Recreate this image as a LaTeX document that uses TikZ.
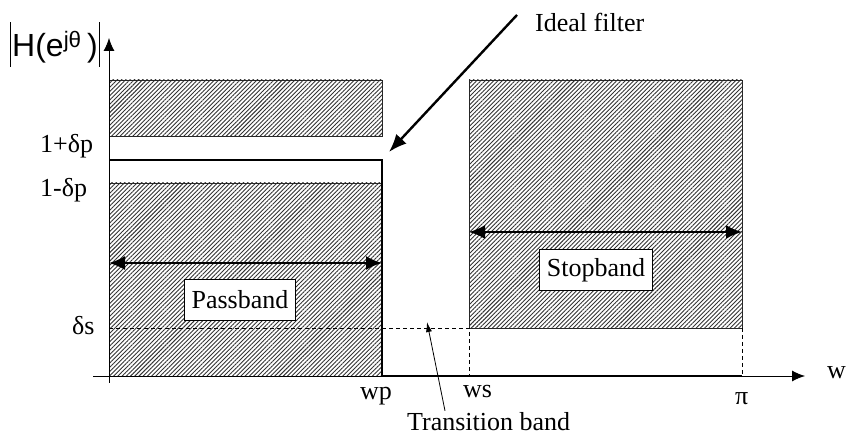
\documentclass[tikz,border=0pt]{standalone}
\usepackage{fontspec}
\setmainfont{Liberation Serif}
\newfontfamily\arialfont{Liberation Sans}
\usetikzlibrary{positioning,patterns.meta,arrows.meta}

\begin{document}
\begin{tikzpicture}[x=1pt, y=-1pt,
                hatchbox/.style={draw=black!85, line width=0.8pt,
                                 pattern={Lines[angle=45, distance=3pt, line width=0.9pt]},
                                 pattern color=black!80},
                labelbox/.style={draw, fill=white, line width=0.8pt, font=\fontsize{26}{30}\selectfont,
                                 inner xsep=7pt, inner ysep=0pt, minimum height=41pt},
                lbl/.style={font=\fontsize{26}{30}\selectfont, inner sep=0pt},
                axis/.style={-{Latex[length=13pt, width=11pt]}, line width=0.9pt},
                band/.style={{Latex[length=16pt, width=14pt]}-{Latex[length=16pt, width=14pt]}, line width=2pt},
                filterline/.style={line width=2.4pt},
                limit/.style={line width=0.6pt, dash pattern=on 4pt off 3pt}
            ]
                \useasboundingbox (0,0) rectangle (849,443);

                % tolerance bands
                \draw[hatchbox] (109,80) rectangle (382,136);
                \draw[hatchbox] (109,183) rectangle (382,376);
                \draw[hatchbox] (469,80) rectangle (742,328);

                % delta_s level and stopband edges
                \coordinate (dsl) at (109,328);
                \coordinate (dsr) at (469,328);
                \coordinate (wsb) at (469,376);
                \coordinate (pit) at (742,328);
                \coordinate (pib) at (742,376);
                \draw[limit] (dsl) -- (dsr) -- (wsb);
                \draw[limit] (pit) -- (pib);

                % axes
                \coordinate (xstart) at (93,376);
                \coordinate (xend) at (805,376);
                \coordinate (ystart) at (109,383);
                \coordinate (yend) at (109,38);
                \draw[axis] (xstart) -- (xend);
                \draw[axis] (ystart) -- (yend);

                % ideal response
                \coordinate (f0) at (109,160);
                \coordinate (f1) at (382,160);
                \coordinate (f2) at (382,376);
                \coordinate (f3) at (742,376);
                \draw[filterline] (f0) -- (f1) -- (f2) -- (f3);

                % band widths
                \coordinate (pl) at (109,263);
                \coordinate (pr) at (382,263);
                \coordinate (sl) at (469,232);
                \coordinate (sr) at (742,232);
                \draw[band] (pl) -- (pr);
                \draw[band] (sl) -- (sr);

                \node[labelbox] (pass) at (240,300) {Passband};
                \node[labelbox] (stop) at (596,270) {Stopband};

                % axis labels
                \node[inner sep=0pt, anchor=base west] (hmag) at (10,57)
                     {\arialfont\fontsize{32}{36}\selectfont
                      \vrule width 1pt height 35pt depth 10pt\hspace{1pt}H(e\textsuperscript{jθ}\,)\hspace{1pt}\vrule width 1pt height 35pt depth 10pt};
                \node[lbl, anchor=base west] (dpup) at (40,153) {1+δp};
                \node[lbl, anchor=base west] (dplo) at (40,197) {1-δp};
                \node[lbl, anchor=base west] (ds) at (72,335) {δs};
                \node[lbl, anchor=base west] (wp) at (360,400) {wp};
                \node[lbl, anchor=base west] (ws) at (463,398) {ws};
                \node[lbl, anchor=base west] (pi) at (735,405) {π};
                \node[lbl, anchor=base west] (w) at (827,379) {w};

                % pointers
                \node[lbl, anchor=base west] (ideal) at (535,32) {Ideal filter};
                \node[lbl, anchor=base west] (trans) at (407,431) {Transition band};
                \coordinate (idealtip) at (389,152);
                \coordinate (transtip) at (427,322);
                \draw[-{Latex[length=18pt, width=14pt]}, line width=2.4pt]
                     ([xshift=-18pt, yshift=8pt]ideal.west) -- (idealtip);
                \draw[-{Latex[length=10pt, width=6pt]}, line width=0.8pt]
                     ([xshift=38pt, yshift=2pt]trans.north west) -- (transtip);

            \end{tikzpicture}
\end{document}
